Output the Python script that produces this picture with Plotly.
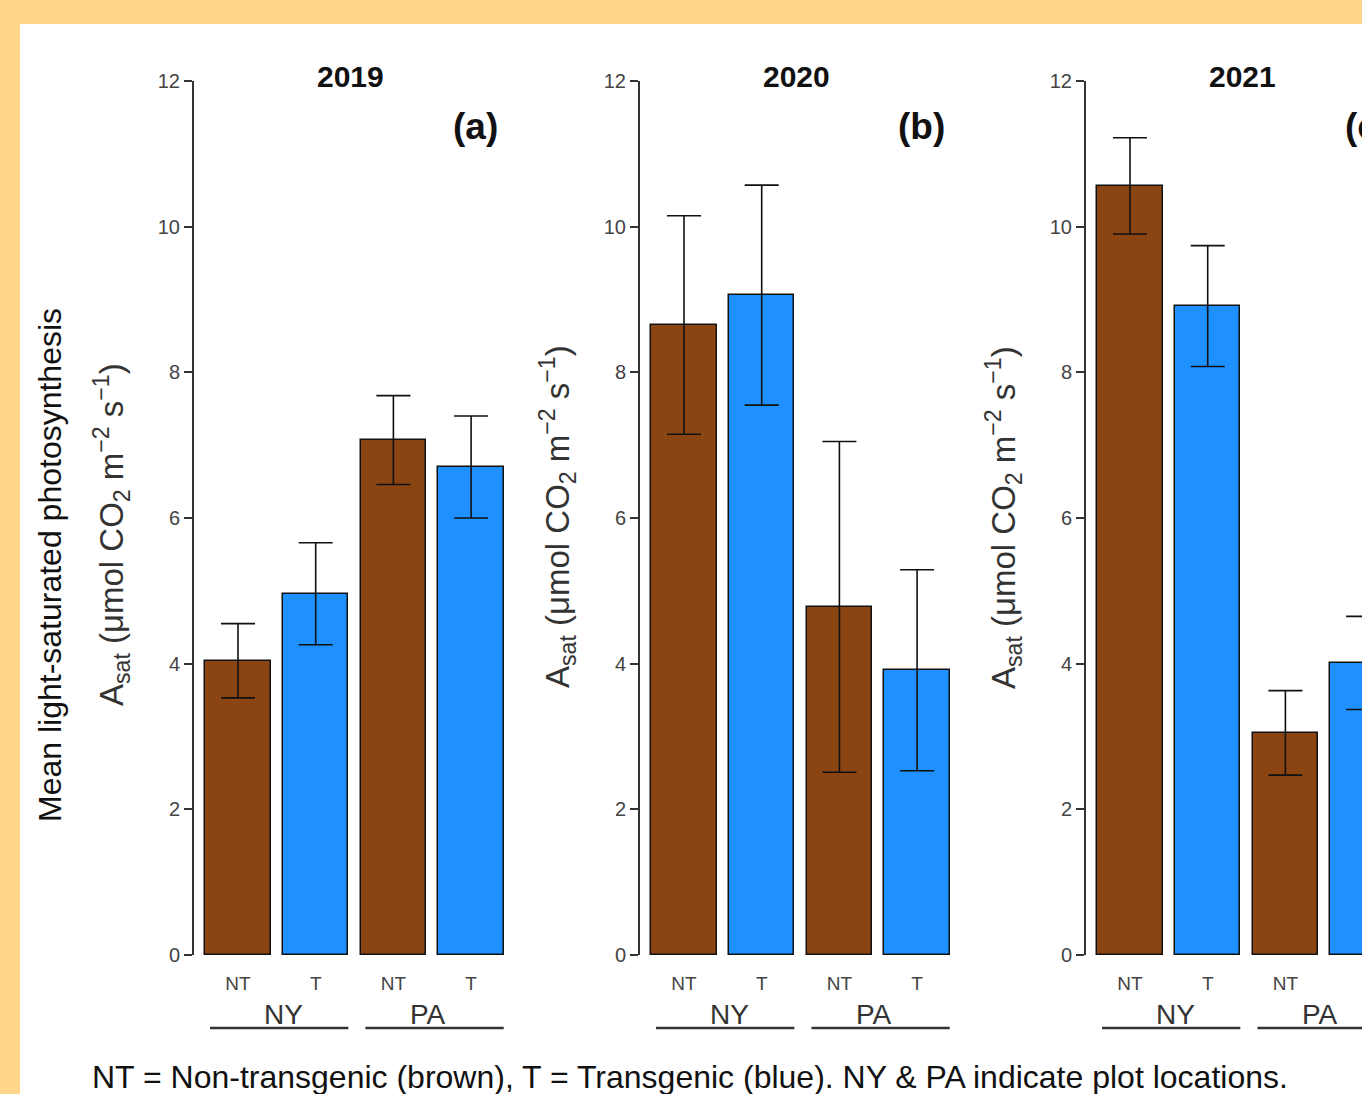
import plotly.graph_objects as go

# ---------------- data ----------------
years = ["2019", "2020", "2021"]
panel_tags = ["(a)", "(b)", "(c)"]
treatments = ["NT", "T", "NT", "T"]
sites = ["NY", "PA"]
means_2019 = [4.04, 4.96, 7.07, 6.70]
se_2019 = [0.51, 0.70, 0.61, 0.70]
means_2020 = [8.65, 9.06, 4.78, 3.91]
se_2020 = [1.50, 1.51, 2.27, 1.38]
means_2021 = [10.56, 8.91, 3.05, 4.01]
se_2021 = [0.66, 0.83, 0.58, 0.64]
y_ticks = [0, 2, 4, 6, 8, 10, 12]

means = [means_2019, means_2020, means_2021]
ses = [se_2019, se_2020, se_2021]

# ---------------- style ----------------
W, H = 1362, 1094
BROWN = "#8B4513"
BLUE = "#1E90FF"
colors = {"NT": BROWN, "T": BLUE}
FONT = "Liberation Sans, Arial, sans-serif"
AX = "#333333"

axis_px = [194, 640, 1086]
right_px = [530, 976, 1362]
first_off = 44.0
step_px = 77.7
y_bottom_px, y_top_px = 955, 81
ytitle_center = [535, 517, 517]
site_label_shift = [0.09, -0.06]


def fx(px):
    return px / W


def fy(py):
    return (H - py) / H


fig = go.Figure()
annotations = []
shapes = [dict(type="rect", xref="paper", yref="paper", x0=fx(20), x1=1.0,
               y0=0, y1=fy(24), fillcolor="white", line=dict(width=0),
               layer="below")]


def ann(**kw):
    d = dict(showarrow=False, xanchor="center", yanchor="middle")
    d.update(kw)
    annotations.append(d)


for i in range(3):
    xa = "x" if i == 0 else f"x{i+1}"
    ya = "y" if i == 0 else f"y{i+1}"
    pos = list(range(len(treatments)))
    fig.add_trace(go.Bar(
        x=pos, y=means[i], xaxis=xa, yaxis=ya, width=0.84,
        marker=dict(color=[colors[t] for t in treatments],
                    line=dict(color="#111111", width=1.5)),
        error_y=dict(type="data", array=ses[i], color="#111111",
                     thickness=1.6, width=17),
        showlegend=False, hoverinfo="x+y",
    ))
    x0 = -first_off / step_px
    x1 = (right_px[i] - axis_px[i] - first_off) / step_px
    fig.layout[f"xaxis{'' if i == 0 else i+1}"] = dict(
        domain=[fx(axis_px[i]), fx(right_px[i])], range=[x0, x1],
        anchor=ya, showline=False, showgrid=False, zeroline=False,
        tickvals=pos, ticktext=treatments, ticks="", automargin=False,
        ticklabelstandoff=15,
        tickfont=dict(family=FONT, size=19, color="#444444"),
    )
    fig.layout[f"yaxis{'' if i == 0 else i+1}"] = dict(
        domain=[fy(y_bottom_px), fy(y_top_px)], range=[0, 12],
        anchor=xa, showline=True, linecolor=AX, linewidth=2,
        ticks="outside", ticklen=8, tickwidth=1.5, tickcolor=AX,
        tickvals=y_ticks, showgrid=False, zeroline=False, automargin=False,
        tickfont=dict(family=FONT, size=20, color="#444444"),
    )
    # year title
    ann(xref="paper", yref="paper", x=fx(axis_px[i] + 156), y=fy(77),
        text=f"<b>{years[i]}</b>",
        font=dict(family=FONT, size=30, color="#111111"))
    # panel tag
    ann(xref="paper", yref="paper", x=fx(axis_px[i] + 281), y=fy(126),
        text=f"<b>{panel_tags[i]}</b>",
        font=dict(family=FONT, size=37, color="#111111"))
    # y-axis title
    ann(xref="paper", yref="paper", x=fx(axis_px[i] - 83),
        y=fy(ytitle_center[i]), textangle=-90,
        text="A<sub>sat</sub> (μmol CO<sub>2</sub> m<sup>−2</sup> s<sup>−1</sup>)",
        font=dict(family=FONT, size=33, color="#333333"))
    # site group labels and lines
    for g, site in enumerate(sites):
        a, b = 2 * g, 2 * g + 1
        ann(xref=xa, yref="paper", x=(a + b) / 2 + site_label_shift[g],
            y=fy(1014), text=site,
            font=dict(family=FONT, size=28, color="#333333"))
        shapes.append(dict(
            type="line", xref=xa, yref="paper",
            x0=a - 0.36, x1=b + 0.42, y0=fy(1028), y1=fy(1028),
            line=dict(color="#333333", width=2.5)))

# outer y title
ann(xref="paper", yref="paper", x=fx(50), y=fy(565), textangle=-90,
    text="Mean light-saturated photosynthesis",
    font=dict(family=FONT, size=32, color="#111111"))
# caption
ann(xref="paper", yref="paper", x=fx(90), y=fy(1077), xanchor="left",
    text="NT = Non-transgenic (brown), T = Transgenic (blue). NY & PA indicate plot locations.",
    font=dict(family=FONT, size=32, color="#111111"))

fig.update_layout(
    template="none",
    width=W, height=H, margin=dict(l=0, r=0, t=0, b=0, pad=0, autoexpand=False),
    paper_bgcolor="#FFD68A", plot_bgcolor="rgba(0,0,0,0)",
    annotations=annotations, shapes=shapes, bargap=0,
    font=dict(family=FONT), showlegend=False,
)

fig.write_html("out.html", config={"displayModeBar": False},
               post_script="document.body.style.margin='0';document.body.style.overflow='hidden';")
